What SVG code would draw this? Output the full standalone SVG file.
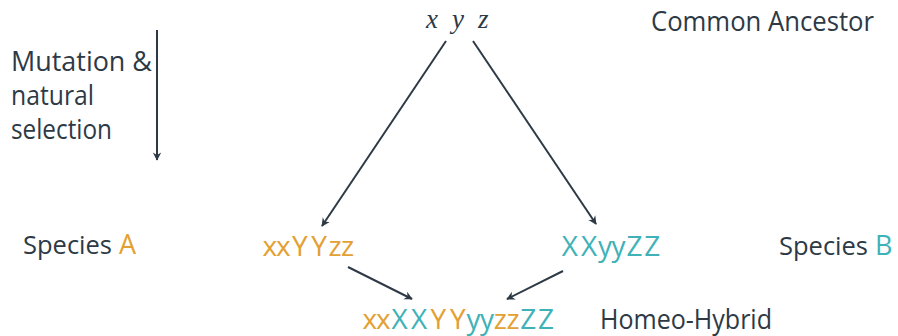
<svg xmlns="http://www.w3.org/2000/svg" width="898" height="336" viewBox="0 0 898 336">
<style>
.t{font-family:"Open Sans",Lato,sans-serif;font-size:27px;fill:#2d3a46;font-variant-ligatures:none}
.g{font-size:28px}
.s{font-size:25.5px}
.o{fill:#e3a033}
.c{fill:#3fb2b8}
.m{font-family:"Liberation Serif",serif;font-style:italic;font-size:27px;fill:#2d3a46}
.e{stroke:#2d3a46;stroke-width:2;fill:none;marker-end:url(#ah)}
</style>
<defs>
<marker id="ah" viewBox="0 0 10 10" refX="9" refY="5" markerWidth="6" markerHeight="6" orient="auto" markerUnits="userSpaceOnUse" overflow="visible">
<path d="M0,0 L10,5 L0,10 L3,5 Z" fill="#2d3a46" transform="scale(1.4) translate(-2.6,-1.45)"/>
</marker>
</defs>
<g id="ancestor"><text class="m" y="28"><tspan x="426">x</tspan><tspan x="452">y</tspan><tspan x="478">z</tspan></text></g>
<g id="label-ancestor"><text class="t" x="651" y="31" textLength="223" lengthAdjust="spacingAndGlyphs">Common Ancestor</text></g>
<g id="label-mutation"><text class="t" x="11" y="71" textLength="141" lengthAdjust="spacingAndGlyphs">Mutation &amp;</text><text class="t" x="11" y="105" textLength="83" lengthAdjust="spacingAndGlyphs">natural</text><text class="t" x="11" y="139" textLength="101" lengthAdjust="spacingAndGlyphs">selection</text></g>
<g id="label-a"><text class="t" y="254"><tspan class="s" x="23">Species</tspan><tspan class="o" x="119">A</tspan></text></g>
<g id="species-a"><text class="t g o" y="256" x="262.5 275.9 292 311.3 328.4 341">xxYYzz</text></g>
<g id="species-b"><text class="t g c" y="256" x="561.8 581.1 598.1 611.5 626.6 644.3">XXyyZZ</text></g>
<g id="label-b"><text class="t" y="255"><tspan class="s" x="779">Species</tspan><tspan class="c" x="875">B</tspan></text></g>
<g id="hybrid"><text class="t g" y="329"><tspan class="o" x="362.5 375.9">xx</tspan><tspan class="c" x="391.6 410.9">XX</tspan><tspan class="o" x="430.6 449.9">YY</tspan><tspan class="c" x="466.5 479.9">yy</tspan><tspan class="o" x="493.8 506.4">zz</tspan><tspan class="c" x="520.2 537.9">ZZ</tspan></text></g>
<g id="label-hybrid"><text class="t" x="600" y="329" textLength="172" lengthAdjust="spacingAndGlyphs">Homeo-Hybrid</text></g>
<g id="connectors">
<line class="e" x1="157" y1="30" x2="157" y2="160"/>
<line class="e" x1="446" y1="41" x2="322" y2="226"/>
<line class="e" x1="473" y1="41" x2="596" y2="224"/>
<line class="e" x1="348" y1="267" x2="412" y2="299"/>
<line class="e" x1="563" y1="271" x2="507" y2="299"/>
</g>
</svg>
